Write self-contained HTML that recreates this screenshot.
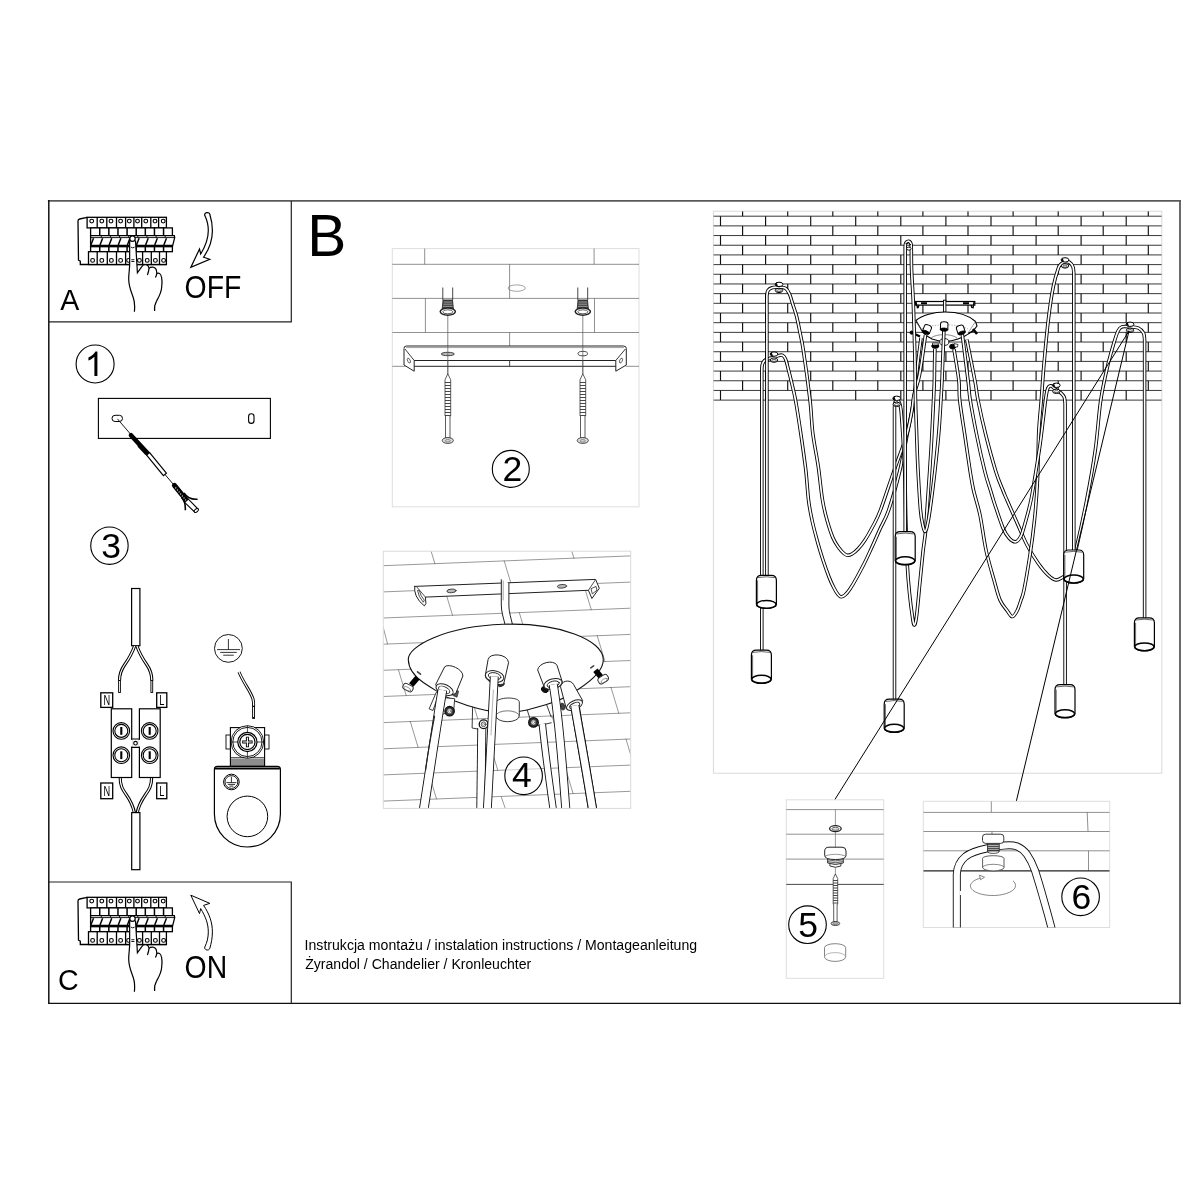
<!DOCTYPE html>
<html><head><meta charset="utf-8"><title>Instrukcja</title>
<style>
html,body{margin:0;padding:0;background:#fff;}
svg{display:block;}
text{font-family:"Liberation Sans",sans-serif;fill:#000;filter:url(#tf);}
</style></head>
<body>
<svg width="1200" height="1200" viewBox="0 0 1200 1200">
<defs><filter id="tf" x="-5%" y="-20%" width="110%" height="140%"><feOffset dx="0" dy="0"/></filter></defs>
<rect width="1200" height="1200" fill="#fff"/>
<!-- frame -->
<g fill="none" stroke-linecap="square">
<path d="M48.8 200.8H1180" stroke="#5a5a5a" stroke-width="1.8"/>
<path d="M1180 200.8V1003.3" stroke="#5a5a5a" stroke-width="1.8"/>
<path d="M48.8 200.8V1003.3" stroke="#111" stroke-width="1.5"/>
<path d="M48.8 1003.3H1180" stroke="#111" stroke-width="1.3"/>
<path d="M48.8 321.8H291.3V201" stroke="#222" stroke-width="1.2" stroke-linecap="butt"/>
<path d="M48.8 882H291.3V1003.4" stroke="#222" stroke-width="1.2" stroke-linecap="butt"/>
</g>
<!-- labels -->
<g>
<text x="307.2" y="255.6" font-size="58.5">B</text>
<text x="60.2" y="309.5" font-size="28.6">A</text>
<text x="58" y="990.2" font-size="28.6">C</text>
<text transform="translate(184.6 297.5) scale(0.93 1)" font-size="30.5">OFF</text>
<text transform="translate(184.6 977.5) scale(0.93 1)" font-size="30.5">ON</text>
<text x="304.6" y="950.3" font-size="14" textLength="392.5" lengthAdjust="spacingAndGlyphs">Instrukcja montażu / instalation instructions / Montageanleitung</text>
<text x="305.2" y="968.7" font-size="14" textLength="226" lengthAdjust="spacingAndGlyphs">Żyrandol / Chandelier / Kronleuchter</text>
</g>
<!-- breaker -->
<g id="brk">
<path d="M87.1 217.3L79.6 219 Q78 219.4 78 221 L78.5 260.2 L80.3 261.2 V264.5 H166.4" fill="none" stroke="#000" stroke-width="1.3"/>
<rect x="87.1" y="217.3" width="79.3" height="10.6" fill="#fff" stroke="#000" stroke-width="1.3"/>
<path d="M97.2 217.3V227.9" stroke="#000" stroke-width="1.3"/>
<path d="M106.8 217.3V227.9" stroke="#000" stroke-width="1.3"/>
<path d="M116.5 217.3V227.9" stroke="#000" stroke-width="1.3"/>
<path d="M125.6 217.3V227.9" stroke="#000" stroke-width="1.3"/>
<path d="M133.9 217.3V227.9" stroke="#000" stroke-width="1.3"/>
<path d="M141.7 217.3V227.9" stroke="#000" stroke-width="1.3"/>
<path d="M150.8 217.3V227.9" stroke="#000" stroke-width="1.3"/>
<path d="M158.6 217.3V227.9" stroke="#000" stroke-width="1.3"/>
<circle cx="91.7" cy="221.1" r="1.9" fill="#fff" stroke="#000" stroke-width="1.1"/>
<circle cx="101.8" cy="221.1" r="1.9" fill="#fff" stroke="#000" stroke-width="1.1"/>
<circle cx="111" cy="221.1" r="1.9" fill="#fff" stroke="#000" stroke-width="1.1"/>
<circle cx="120.6" cy="221.1" r="1.9" fill="#fff" stroke="#000" stroke-width="1.1"/>
<circle cx="129.3" cy="221.1" r="1.9" fill="#fff" stroke="#000" stroke-width="1.1"/>
<circle cx="137.5" cy="221.1" r="1.9" fill="#fff" stroke="#000" stroke-width="1.1"/>
<circle cx="145.8" cy="221.1" r="1.9" fill="#fff" stroke="#000" stroke-width="1.1"/>
<circle cx="155" cy="221.1" r="1.9" fill="#fff" stroke="#000" stroke-width="1.1"/>
<circle cx="163.2" cy="221.1" r="1.9" fill="#fff" stroke="#000" stroke-width="1.1"/>
<rect x="90.6" y="227.9" width="81.8" height="7.8" fill="#fff" stroke="#000" stroke-width="1.3"/>
<path d="M99.72 227.9V235.7" stroke="#000" stroke-width="1.5"/>
<path d="M108.84 227.9V235.7" stroke="#000" stroke-width="1.5"/>
<path d="M117.96 227.9V235.7" stroke="#000" stroke-width="1.5"/>
<path d="M127.08 227.9V235.7" stroke="#000" stroke-width="1.5"/>
<path d="M136.20 227.9V235.7" stroke="#000" stroke-width="1.5"/>
<path d="M145.32 227.9V235.7" stroke="#000" stroke-width="1.5"/>
<path d="M154.44 227.9V235.7" stroke="#000" stroke-width="1.5"/>
<path d="M163.56 227.9V235.7" stroke="#000" stroke-width="1.5"/>
<path d="M90.6 235.7H174.3L174.7 237.6 L172.4 246.6 H90.6Z" fill="#fff" stroke="#000" stroke-width="1.3"/>
<path d="M91 237.6H174.5" stroke="#000" stroke-width="0.9" fill="none"/>
<path d="M90.6 245.8H172.6" stroke="#000" stroke-width="2" fill="none"/>
<path d="M90.90 245V238.5 " stroke="none"/>
<path d="M100.02 245V238.5 " stroke="none"/>
<path d="M109.14 245V238.5 " stroke="none"/>
<path d="M118.26 245V238.5 " stroke="none"/>
<path d="M127.38 245V238.5 " stroke="none"/>
<path d="M136.50 245V238.5 " stroke="none"/>
<path d="M145.62 245V238.5 " stroke="none"/>
<path d="M154.74 245V238.5 " stroke="none"/>
<path d="M163.86 245V238.5 " stroke="none"/>
<path d="M172.98 245V238.5 " stroke="none"/>
<path d="M90.90 245L93.50 238.3" stroke="#000" stroke-width="1.5" fill="none"/>
<path d="M100.02 245L102.62 238.3" stroke="#000" stroke-width="1.5" fill="none"/>
<path d="M109.14 245L111.74 238.3" stroke="#000" stroke-width="1.5" fill="none"/>
<path d="M118.26 245L120.86 238.3" stroke="#000" stroke-width="1.5" fill="none"/>
<path d="M127.38 245L129.98 238.3" stroke="#000" stroke-width="1.5" fill="none"/>
<path d="M136.50 245L139.10 238.3" stroke="#000" stroke-width="1.5" fill="none"/>
<path d="M145.62 245L148.22 238.3" stroke="#000" stroke-width="1.5" fill="none"/>
<path d="M154.74 245L157.34 238.3" stroke="#000" stroke-width="1.5" fill="none"/>
<path d="M163.86 245L166.46 238.3" stroke="#000" stroke-width="1.5" fill="none"/>
<path d="M101.32 235.7V237.6" stroke="#000" stroke-width="0.9"/>
<path d="M110.44 235.7V237.6" stroke="#000" stroke-width="0.9"/>
<path d="M119.56 235.7V237.6" stroke="#000" stroke-width="0.9"/>
<path d="M128.68 235.7V237.6" stroke="#000" stroke-width="0.9"/>
<path d="M137.80 235.7V237.6" stroke="#000" stroke-width="0.9"/>
<path d="M146.92 235.7V237.6" stroke="#000" stroke-width="0.9"/>
<path d="M156.04 235.7V237.6" stroke="#000" stroke-width="0.9"/>
<path d="M165.16 235.7V237.6" stroke="#000" stroke-width="0.9"/>
<rect x="90.6" y="246.7" width="81.8" height="5" fill="#fff" stroke="#000" stroke-width="1.3"/>
<path d="M99.72 246.7V251.7" stroke="#000" stroke-width="1.5"/>
<path d="M108.84 246.7V251.7" stroke="#000" stroke-width="1.5"/>
<path d="M117.96 246.7V251.7" stroke="#000" stroke-width="1.5"/>
<path d="M127.08 246.7V251.7" stroke="#000" stroke-width="1.5"/>
<path d="M136.20 246.7V251.7" stroke="#000" stroke-width="1.5"/>
<path d="M145.32 246.7V251.7" stroke="#000" stroke-width="1.5"/>
<path d="M154.44 246.7V251.7" stroke="#000" stroke-width="1.5"/>
<path d="M163.56 246.7V251.7" stroke="#000" stroke-width="1.5"/>
<rect x="88.5" y="251.7" width="77.9" height="12.8" fill="#fff" stroke="#000" stroke-width="1.3"/>
<path d="M97.2 251.7V264.5" stroke="#000" stroke-width="1.3"/>
<path d="M107.3 251.7V264.5" stroke="#000" stroke-width="1.3"/>
<path d="M116.5 251.7V264.5" stroke="#000" stroke-width="1.3"/>
<path d="M125.6 251.7V264.5" stroke="#000" stroke-width="1.3"/>
<path d="M142.6 251.7V264.5" stroke="#000" stroke-width="1.3"/>
<path d="M151.3 251.7V264.5" stroke="#000" stroke-width="1.3"/>
<path d="M159.5 251.7V264.5" stroke="#000" stroke-width="1.3"/>
<circle cx="92.6" cy="260.4" r="1.9" fill="#fff" stroke="#000" stroke-width="1.1"/>
<circle cx="101.8" cy="260.4" r="1.9" fill="#fff" stroke="#000" stroke-width="1.1"/>
<circle cx="111.4" cy="260.4" r="1.9" fill="#fff" stroke="#000" stroke-width="1.1"/>
<circle cx="120.6" cy="260.4" r="1.9" fill="#fff" stroke="#000" stroke-width="1.1"/>
<circle cx="128.6" cy="260.4" r="1.9" fill="#fff" stroke="#000" stroke-width="1.1"/>
<circle cx="139.4" cy="260.4" r="1.9" fill="#fff" stroke="#000" stroke-width="1.1"/>
<circle cx="147.2" cy="260.4" r="1.9" fill="#fff" stroke="#000" stroke-width="1.1"/>
<circle cx="155.4" cy="260.4" r="1.9" fill="#fff" stroke="#000" stroke-width="1.1"/>
<circle cx="163.6" cy="260.4" r="1.9" fill="#fff" stroke="#000" stroke-width="1.1"/>
<path d="M129.65 241 V264.5 C129.6 270 128.7 273 128.7 279 C128.7 287 131.5 292 133.4 298 C135 303 134.9 307 134.4 311.8 L154.6 311 C154 306 154.6 304.5 156.5 301.2 C159 296.5 161 293.5 161.6 288 C162.3 283 162.2 280 161.6 277.5 C160.8 273.6 159 272.4 156.8 273.4 C156.8 269.5 155 267.2 152.4 267.2 C150.8 267.2 149.8 267.6 149 268.4 C148.6 265.6 147 264.6 145.2 264.6 C143.6 264.6 142.6 265.4 142 266.3 L137.4 272.8 L135.5 241 Z" fill="#fff" stroke="none"/>
<path d="M129.65 240.5 V264.5 C129.6 270 128.7 273 128.7 279 C128.7 287 131.5 292 133.4 298 C135 303 134.9 307 134.4 311.8" fill="none" stroke="#000" stroke-width="1.2"/>
<path d="M135.5 240.5 L137.4 272.8 L142 266.3 C142.6 265.4 143.6 264.6 145.2 264.6 C147 264.6 148.6 265.6 149 268.4 C148.8 271 148.2 273 147.4 275" fill="none" stroke="#000" stroke-width="1.2"/>
<path d="M149 268.4 C149.8 267.6 150.8 267.2 152.4 267.2 C155 267.2 156.8 269.5 156.8 273.4 C156.6 275 156 276.4 155.4 277.6" fill="none" stroke="#000" stroke-width="1.2"/>
<path d="M156.8 273.4 C159 272.4 160.8 273.6 161.6 277.5 C162.2 280 162.3 283 161.6 288 C161 293.5 159 296.5 156.5 301.2 C154.6 304.5 154 306 154.6 311" fill="none" stroke="#000" stroke-width="1.2"/>
<circle cx="132.5" cy="238.7" r="2.7" fill="#fff" stroke="#000" stroke-width="1.2"/>
<path d="M130.8 247.1Q132.6 248.6 134.6 247.1" fill="none" stroke="#000" stroke-width="0.9"/>
<path d="M131.3 259.7H134.4M131.3 261.5H134.4" stroke="#000" stroke-width="0.9"/>
</g>
<use href="#brk" y="680"/>
<path d="M204.8 215.6 C203.8 212.6 209 211.2 209.8 214.3 C211.3 219 212.4 225 212.4 230.7 C212.4 240 209.5 248.5 203.6 257.2 L209.75 259.25 L190.8 267.4 L199.5 249 L200.7 254 C205.5 246 208.3 239 208.3 230.7 C208.3 225 207 220 204.8 215.6 Z" fill="#fff" stroke="#000" stroke-width="1.2"/>
<path d="M204.8 215.6 C203.8 212.6 209 211.2 209.8 214.3 C211.3 219 212.4 225 212.4 230.7 C212.4 240 209.5 248.5 203.6 257.2 L209.75 259.25 L190.8 267.4 L199.5 249 L200.7 254 C205.5 246 208.3 239 208.3 230.7 C208.3 225 207 220 204.8 215.6 Z" fill="#fff" stroke="#000" stroke-width="1" transform="translate(0 1162.6) scale(1 -1)"/>
<!-- s1 -->
<g fill="none" stroke="#000">
<circle cx="95.1" cy="364" r="19" stroke-width="1.1"/>
<rect x="98.4" y="398.4" width="172" height="40" stroke-width="1.1" fill="#fff"/>
<rect x="112" y="415.3" width="10.5" height="6.2" rx="3.1" stroke-width="1"/>
<rect x="248.6" y="413.8" width="5.4" height="9.6" rx="2.7" stroke-width="1.1"/>
<path d="M117.5 418.9L173.6 484.6" stroke-width="0.9"/>
<path d="M131 435.3L148.1 453.9" stroke-width="4.6" stroke-linecap="round"/>
<path d="M146.6 455.1L149.6 452.6L166.4 473.2L163.4 475.7Z" fill="#fff" stroke-width="1.2"/>
<path d="M147 453.5L139 445" stroke="#000" stroke-width="4.2"/>
<!-- plug -->
<path d="M174.4 485.4L186.8 500.6" stroke-width="5" stroke-linecap="round"/>
<path d="M175.5 487.5L186 500.5" stroke="#fff" stroke-width="1.2" stroke-dasharray="1 1.6"/>
<path d="M184.6 502.4L188.4 499.2L198 509L194.6 512Z" fill="#fff" stroke-width="1.1"/>
<ellipse cx="196.3" cy="510.5" rx="2.4" ry="1.5" transform="rotate(-42 196.3 510.5)" fill="#fff" stroke-width="1"/>
<path d="M184 493C187 497.5 191.5 499.8 197.6 499.2" stroke-width="1.6"/>
<path d="M181.5 497.5C184.8 501 185.6 505.5 185.3 510.2" stroke-width="1.6"/>
</g>
<path d="M763 0H583V1147Q518 1085 412.5 1023Q307 961 223 930V1104Q374 1175 487 1276Q600 1377 647 1472H763Z" transform="translate(84.7 375.9) scale(0.01664 -0.01664)" fill="#000"/>
<!-- s3 -->
<g fill="none" stroke="#000" stroke-width="1.1">
<circle cx="109.45" cy="545.7" r="18.7"/>
<!-- top cable -->
<rect x="131.6" y="588.5" width="8.3" height="57.2" fill="#fff" stroke-width="1.2"/>
<!-- top wires -->
<path d="M134.6 646C131.5 655 128 660 124.5 665C121 670 119.5 674 119.5 680.5" stroke-width="3.2"/>
<path d="M134.6 646C131.5 655 128 660 124.5 665C121 670 119.5 674 119.5 680.5" stroke="#fff" stroke-width="1.2"/>
<path d="M136.9 646C140 655 143.5 660 147 665C150.5 670 151.8 674 151.8 680.5" stroke-width="3.2"/>
<path d="M136.9 646C140 655 143.5 660 147 665C150.5 670 151.8 674 151.8 680.5" stroke="#fff" stroke-width="1.2"/>
<rect x="118.6" y="680.5" width="1.8" height="12" fill="#fff" stroke-width="0.9"/>
<rect x="150.9" y="680.5" width="1.8" height="12" fill="#fff" stroke-width="0.9"/>
<!-- labels boxes -->
<rect x="100.8" y="692.8" width="11.9" height="14.6" stroke-width="1.3"/>
<rect x="156.7" y="692.8" width="10.1" height="14.6" stroke-width="1.3"/>
<rect x="100.8" y="783" width="11.9" height="15.7" stroke-width="1.3"/>
<rect x="156.7" y="783" width="10.1" height="15.7" stroke-width="1.3"/>
<!-- bottom wires -->
<path d="M120.2 777.5C120 786 123 790 126.5 795C130 800 133 806 134.4 812.6" stroke-width="3.2"/>
<path d="M120.2 777C120 786 123 790 126.5 795C130 800 133 806 134.4 813" stroke="#fff" stroke-width="1.2"/>
<path d="M151.6 777.5C151.8 786 148.8 790 145.3 795C141.8 800 138.6 806 137.2 812.6" stroke-width="3.2"/>
<path d="M151.6 777C151.8 786 148.8 790 145.3 795C141.8 800 138.6 806 137.2 813" stroke="#fff" stroke-width="1.2"/>
<!-- blocks -->
<rect x="111.3" y="708.8" width="20.4" height="68.7" fill="#fff" stroke-width="1.2"/>
<rect x="139.4" y="708.8" width="20.8" height="68.7" fill="#fff" stroke-width="1.2"/>
<path d="M131.7 739.7V746.7M139.4 739.7V746.7" stroke="#fff" stroke-width="1.8"/>
<path d="M131.1 739H140M131.1 747.4H140"/>
<circle cx="135.5" cy="743.2" r="1.8"/>
<g id="scr"><circle cx="121.3" cy="730.9" r="8.3" stroke-width="1.1"/><circle cx="121.3" cy="730.9" r="6.5" stroke-width="1.1"/><path d="M121.3 727V734.8" stroke-width="2.1"/></g>
<use href="#scr" x="28.4"/><use href="#scr" y="24.3"/><use href="#scr" x="28.4" y="24.3"/>
<!-- bottom cable -->
<rect x="131.7" y="812.6" width="8.2" height="57.1" fill="#fff" stroke-width="1.2"/>
<!-- ground symbol -->
<circle cx="228.4" cy="648.4" r="13.9" stroke-width="0.9"/>
<path d="M228.4 639V649.6M217 649.6H240M220.2 652.4H236.8M223.2 655.2H233.8" stroke-width="0.8"/>
<!-- ground wire -->
<path d="M239 672C244 684 250 690 253 699C253.8 702 253.6 704 253.6 706.5" stroke-width="3"/>
<path d="M238.8 671.5C244 684 250 690 253 699C253.8 702 253.6 704 253.6 707" stroke="#fff" stroke-width="1.2"/>
<rect x="252.6" y="706.2" width="1.9" height="12.2" fill="#fff" stroke-width="0.9"/>
<!-- connector -->
<rect x="226" y="735" width="4.4" height="14" stroke-width="0.9"/>
<rect x="264.6" y="735" width="4.4" height="14" stroke-width="0.9"/>
<rect x="230.4" y="727.6" width="34.2" height="38.4" fill="#fff"/>
<path d="M230.4 757.8H264.6M230.4 760H264.6M230.4 762H264.6M230.4 764H264.6" stroke-width="0.9"/>
<circle cx="247.4" cy="742" r="16.3" fill="#fff" stroke-width="0.9"/>
<circle cx="247.4" cy="742" r="14.6" stroke-width="0.9"/>
<circle cx="247.4" cy="742" r="9.6" stroke-width="1.2"/>
<circle cx="247.4" cy="742" r="7.6" stroke-width="1.2"/>
<path d="M247.4 725.6V733M247.4 751V758M231 742H238M257 742H264" stroke-width="0.7"/>
<path d="M247.4 736.8V747.2M242.2 742H252.6" stroke-width="3"/>
<path d="M247.4 737.6V746.4M243 742H251.8" stroke="#fff" stroke-width="1.1"/>
<!-- plate -->
<path d="M217.4 766.4H277.4Q280.4 766.4 280.4 769.4V814A33 33 0 0 1 214.4 814V769.4Q214.4 766.4 217.4 766.4Z" fill="#fff" stroke-width="1.2"/>
<path d="M215 768.6H279.8" stroke-width="2"/>
<circle cx="247.4" cy="816.4" r="20.3" stroke-width="1"/>
<circle cx="231.4" cy="782" r="7.8" stroke-width="1"/>
<circle cx="231.4" cy="782" r="6.4" stroke-width="0.9"/>
<path d="M231.4 776.6V782.6M226.4 782.6H236.4M227.8 784.4H235M229.4 786.1H233.4" stroke-width="0.8"/>
</g>
<text id="d3" x="111" y="557.7" font-size="35.5" text-anchor="middle">3</text>
<text transform="translate(106.75 705.4) scale(0.66 1)" font-size="14" text-anchor="middle">N</text>
<text transform="translate(106.75 796.2) scale(0.66 1)" font-size="14" text-anchor="middle">N</text>
<text transform="translate(161.9 705.4) scale(0.66 1)" font-size="14" text-anchor="middle">L</text>
<text transform="translate(161.9 796.2) scale(0.66 1)" font-size="14" text-anchor="middle">L</text>
<!-- s2 -->
<g fill="none" stroke="#3a3a3a" stroke-width="0.8">
<rect x="392.3" y="248.6" width="246.7" height="258.2" stroke="#dedede" stroke-width="1" fill="#fff"/>
<!-- bricks -->
<path d="M392.3 264.3H639M392.3 298.4H639M392.3 332.5H639M392.3 366.3H405.5M625.6 366.3H639" stroke="#555" stroke-width="0.65"/>
<path d="M424.7 248.6V264.3M594.1 248.6V264.3M509.6 264.3V298.4M425.4 298.4V332.5M594.5 298.4V332.5M509.6 332.5V346M509.6 360.6V366.3" stroke="#555" stroke-width="0.65"/>
<ellipse cx="516.7" cy="288.1" rx="8.6" ry="3.2" stroke="#666" stroke-width="0.6"/>
<!-- guide lines -->
<path d="M447.8 315V374M582.8 315V374" stroke="#555" stroke-width="0.7"/>
<!-- anchors -->
<g id="anch">
<path d="M442.8 287.5V300M452.7 287.5V300" stroke="#333" stroke-width="0.9"/>
<path d="M443 300H452.5L453.4 309H442.2Z" fill="#444" stroke="#222" stroke-width="0.8"/>
<path d="M443.6 302H452M443.4 304.2H452.3M443 306.4H452.6" stroke="#bbb" stroke-width="0.7"/>
<ellipse cx="447.8" cy="311.6" rx="7.6" ry="3.6" fill="#fff" stroke="#222" stroke-width="1.5"/>
<ellipse cx="447.8" cy="311.8" rx="5" ry="2" stroke="#333" stroke-width="0.8"/>
</g>
<use href="#anch" x="135"/>
<!-- bracket -->
<path d="M406.5 346H623.5Q626.4 346 626.3 348.5V365L615.8 371.2V360.5H414.2V371.2L404 365V348.5Q403.9 346 406.5 346Z" fill="#fff" stroke="#222" stroke-width="1"/>
<path d="M406 347.6H624" stroke="#777" stroke-width="0.7"/>
<path d="M414.2 360.5L405 349M615.8 360.5L625.4 349" stroke="#222" stroke-width="0.9"/>
<path d="M414.2 366.3H615.8" stroke="#222" stroke-width="1"/>
<path d="M509.6 360.6V366.3" stroke="#444"/>
<ellipse cx="408.9" cy="360.6" rx="1.3" ry="2.6" transform="rotate(-25 408.9 360.6)" stroke="#333" stroke-width="0.7"/>
<ellipse cx="621" cy="360.6" rx="1.3" ry="2.6" transform="rotate(25 621 360.6)" stroke="#333" stroke-width="0.7"/>
<ellipse cx="447.8" cy="354" rx="6.6" ry="1.7" fill="#bbb" stroke="#333" stroke-width="0.9"/>
<ellipse cx="582.8" cy="353.6" rx="4.8" ry="2.2" fill="#fff" stroke="#333" stroke-width="0.9"/>
<path d="M447.8 346V374" stroke="#555" stroke-width="0.7"/>
<path d="M582.8 346V374" stroke="#555" stroke-width="0.7"/>
<!-- screws -->
<g id="screw2">
<path d="M447.8 373.8L445 379.8V415.8H445.5V438H450V415.8H450.7V379.8Z" fill="#fff" stroke="#333" stroke-width="0.8"/>
<path d="M445 382.5H450.7M445 385.5H450.7M445 388.5H450.7M445 391.5H450.7M445 394.5H450.7M445 397.5H450.7M445 400.5H450.7M445 403.5H450.7M445 406.5H450.7M445 409.5H450.7M445 412.5H450.7M445 415.5H450.7" stroke="#333" stroke-width="0.9"/>
<ellipse cx="447.8" cy="440.5" rx="5.6" ry="2.9" fill="#ddd" stroke="#333" stroke-width="0.9"/>
<ellipse cx="447.8" cy="440.8" rx="2.6" ry="1.2" stroke="#555" stroke-width="0.6"/>
</g>
<use href="#screw2" x="135"/>
<circle cx="510.8" cy="468.9" r="18.5" stroke="#000" stroke-width="1.1"/>
</g>
<text id="d2" x="512.3" y="480.5" font-size="35.5" text-anchor="middle">2</text>
<!-- s4 -->
<clipPath id="c4"><rect x="383.3" y="551.2" width="247.40000000000003" height="257.19999999999993"/></clipPath>
<rect x="383.3" y="551.2" width="247.4" height="257.2" fill="#fff" stroke="none"/>
<g clip-path="url(#c4)" fill="none" stroke="#222" stroke-width="0.9" stroke-linecap="round">
<path d="M383.3 565.7L630.7 555.9M383.3 591.9L630.7 582.1M383.3 618.0L630.7 608.2M383.3 644.2L630.7 634.4M383.3 670.3L630.7 660.5M383.3 696.5L630.7 686.7M383.3 722.6L630.7 712.8M383.3 748.8L630.7 739.0M383.3 774.9L630.7 765.1M383.3 801.1L630.7 791.3" stroke="#444" stroke-width="0.55"/>
<path d="M431.1 551.2L434.9 563.7M571.8 551.2L573.9 558.2M504.2 560.9L512.0 586.8M444.7 589.4L452.5 615.3M583.5 583.9L591.3 609.8M383.3 627.5L387.5 643.8M519.3 612.6L527.1 638.5M597.2 635.7L605.0 661.5M455.0 641.3L462.8 667.2M398.4 669.7L406.2 695.5M540.0 664.1L547.8 689.9M611.0 687.4L618.8 713.3M470.0 693.0L477.8 718.9M410.3 721.5L418.1 747.4M552.0 715.9L559.8 741.8M626.0 739.1L633.8 765.0M490.0 744.5L497.8 770.4M428.7 773.1L436.5 798.9M565.3 767.7L573.1 793.5M501.3 797L505.3 808.5" stroke="#444" stroke-width="0.55"/>
<path d="M414.7 586.4L595.6 579.4L599.3 588.3L591.9 598.5L588.4 590.3L425.4 597.1L425.9 603.5L424.4 605.9Q419 602 416.2 596Q414 590.5 414.7 586.4Z" fill="#fff" stroke-width="1"/>
<path d="M425.4 597.1L417 587.2M588.4 590.3L595.2 580.2" stroke-width="0.8"/>
<path d="M417.6 590.8Q418.5 597 423.3 602.2L424.3 600.2Q420.5 596 419.3 590.6Z" fill="#fff" stroke-width="0.8"/>
<path d="M591.4 588.6L596 586.4L597 590.2L592.6 593.6Z" fill="#fff" stroke-width="0.8"/>
<ellipse cx="451.5" cy="590.9" rx="4.6" ry="1.8" transform="rotate(-3 451.5 590.9)" fill="#bbb" stroke-width="0.8"/>
<ellipse cx="562" cy="586.3" rx="4.6" ry="1.8" transform="rotate(-3 562 586.3)" fill="#bbb" stroke-width="0.8"/>
<path d="M501.3 579.7V605C501.3 612 503.5 618 505.2 625L512.6 625C511 618 508.9 612 508.9 606V582.9" fill="#fff" stroke-width="1"/>
<path d="M503.2 581V600" stroke-width="0.6" stroke="#666"/>
<path d="M408.3 659.5C408 646 445 626.5 503 624.3C560 622.5 603 640 603.3 659.5C603.5 668 596 678 578 689.5C570 695 561 700.5 546.5 704.5C536 707.5 530 709.5 527 710C518 712 510 712.6 505 712.5C495 712.3 486 710.5 478 708.5C470 706.5 462 703.8 455 701C448 698 441 694 436 690.6C430 687 427 685 423.3 682.5C414 676 408.5 668 408.3 659.5Z" fill="#fff" stroke="#111" stroke-width="1.1"/>
<path d="M417.5 671.8L420.5 674.2" stroke-width="1.6" stroke="#444"/><path d="M590.8 667.8L593.6 665.8" stroke-width="1.6" stroke="#444"/>
<path d="M417.6 677.6L411.2 685" stroke="#000" stroke-width="5.6" stroke-linecap="butt"/>
<rect x="-5.2" y="-3.1" width="10.4" height="6.2" rx="2.4" transform="translate(408 687.6) rotate(28)" fill="#fff" stroke-width="0.9"/>
<ellipse cx="407.3" cy="688.8" rx="3.8" ry="1.6" transform="rotate(28 407.3 688.8)" stroke="#666" stroke-width="0.6"/>
<path d="M595.4 670.2L600.8 676.8" stroke="#000" stroke-width="5.6" stroke-linecap="butt"/>
<rect x="-5.4" y="-3.4" width="10.8" height="6.8" rx="2.6" transform="translate(603.2 679.2) rotate(-32)" fill="#fff" stroke-width="0.9"/>
<ellipse cx="604.2" cy="680.6" rx="3.6" ry="1.6" transform="rotate(-32 604.2 680.6)" stroke="#666" stroke-width="0.6"/>
<path d="M495.7 703C496 696.5 519 696.5 519.3 702V715.8A11.8 5.9 0 0 1 495.7 715.8Z" fill="#fff" stroke-width="0.9"/>
<path d="M495.7 715.8A11.8 5 0 0 1 519.3 715.8" stroke-width="0.8" stroke="#555"/>
<path d="M472.6 707.2L472.1 728L478 729.1" stroke-width="0.9"/>
<path d="M527.2 710L530.2 719.3M538.3 725.7L551.2 722.8M546.5 704.4L551.2 717" stroke-width="0.9"/>
<path d="M481.8 728L480.8 812" stroke="#111" stroke-width="9.0" stroke-linecap="butt"/>
<path d="M481.8 728L480.8 812" stroke="#fff" stroke-width="7.2" stroke-linecap="butt"/>
<path d="M542.3 724C545 750 549 780 553.6 812" stroke="#111" stroke-width="7.3999999999999995" stroke-linecap="butt"/>
<path d="M542.3 724C545 750 549 780 553.6 812" stroke="#fff" stroke-width="5.6" stroke-linecap="butt"/>
<circle cx="483.6" cy="724.3" r="4.4" fill="#fff" stroke="#111" stroke-width="1.3"/>
<circle cx="483.6" cy="724.3" r="2.4" fill="#fff" stroke="#333" stroke-width="0.8"/>
<circle cx="483.6" cy="724.3" r="1.1" fill="none" stroke="#666" stroke-width="0.6"/>
<circle cx="533.5" cy="722.4" r="4.8" fill="#333" stroke="#111" stroke-width="1.3"/>
<circle cx="533.5" cy="722.4" r="2.6" fill="#fff" stroke="#333" stroke-width="0.8"/>
<circle cx="533.5" cy="722.4" r="1.2" fill="none" stroke="#666" stroke-width="0.6"/>
<path d="M574.8 704C577 720 583 750 593 812" stroke="#111" stroke-width="9.200000000000001" stroke-linecap="butt"/>
<path d="M574.8 704C577 720 583 750 593 812" stroke="#fff" stroke-width="7.4" stroke-linecap="butt"/>
<path d="M561.7 684C563 680.5 571 679.5 573.6 684.5L582.7 700.7C583 705 570 711 566.3 708.8L560.5 686.7Z" fill="#fff" stroke-width="1"/>
<ellipse cx="574.5" cy="705.2" rx="8.6" ry="4.4" transform="rotate(-25 574.5 705.2)" fill="#fff" stroke-width="1"/>
<ellipse cx="574.7" cy="705.6" rx="5.4" ry="2.6" transform="rotate(-25 574.7 705.6)" fill="#fff" stroke-width="0.9"/>
<path d="M574.8 705.6C577 720 583 750 593 812" stroke="#111" stroke-width="9.0" stroke-linecap="butt"/>
<path d="M574.8 705.6C577 720 583 750 593 812" stroke="#fff" stroke-width="7.2" stroke-linecap="butt"/>
<ellipse cx="562.6" cy="706.6" rx="2.2" ry="3.6" transform="rotate(-15 562.6 706.6)" fill="#444" stroke="#222" stroke-width="0.6"/>
<ellipse cx="544.8" cy="689.6" rx="3.6" ry="2.8" transform="rotate(30 544.8 689.6)" fill="#111" stroke="#000" stroke-width="0.8"/>
<path d="M537.7 669.5C538.5 663 553 659 557 665.2L562.3 682C562 688 548 692 544.2 686.7Z" fill="#fff" stroke-width="1"/>
<ellipse cx="553" cy="683.9" rx="9.3" ry="5" transform="rotate(-15 553 683.9)" fill="#fff" stroke-width="1"/>
<ellipse cx="553.2" cy="684.3" rx="6.2" ry="3.1" transform="rotate(-15 553.2 684.3)" fill="#fff" stroke-width="0.9"/>
<path d="M553.2 684.5C556 700 560 730 566 812" stroke="#111" stroke-width="9.0" stroke-linecap="butt"/>
<path d="M553.2 684.5C556 700 560 730 566 812" stroke="#fff" stroke-width="7.2" stroke-linecap="butt"/>
<ellipse cx="501.2" cy="684.6" rx="3.2" ry="1.8" transform="rotate(-20 501.2 684.6)" fill="#333" stroke="#111" stroke-width="0.7"/>
<path d="M488.2 659C489.5 652.5 507.5 653.5 508.6 662.5L503.9 683C502 687 486 683 485.3 676.2Z" fill="#fff" stroke-width="1"/>
<ellipse cx="494.6" cy="676.4" rx="9.4" ry="5.6" transform="rotate(12 494.6 676.4)" fill="#fff" stroke-width="1"/>
<ellipse cx="494.6" cy="676.2" rx="6.4" ry="3.4" transform="rotate(12 494.6 676.2)" fill="#fff" stroke-width="0.9"/>
<path d="M494.3 676.5C493 700 490 760 487.2 812" stroke="#111" stroke-width="8.8" stroke-linecap="butt"/>
<path d="M494.3 676.5C493 700 490 760 487.2 812" stroke="#fff" stroke-width="7" stroke-linecap="butt"/>
<path d="M493.4 690C492.5 705 491.5 720 491 735" stroke="#666" stroke-width="0.5"/>
<path d="M454.6 689.6L458.6 691.2L457 697.2L453 695.6Z" fill="#555" stroke="#222" stroke-width="0.7"/>
<path d="M429.3 708.5L436.3 692.2L439 693.3L433.1 710.1Z" fill="#fff" stroke-width="0.9"/>
<path d="M442.3 713.9L445 697.7L454.7 698.7L453.7 710.7Z" fill="#fff" stroke-width="0.9"/>
<circle cx="449.6" cy="711.2" r="4.7" fill="#333" stroke="#111" stroke-width="1.3"/>
<circle cx="449.6" cy="711.2" r="2.6" fill="#fff" stroke="#333" stroke-width="0.8"/>
<circle cx="449.6" cy="711.2" r="1.2" fill="none" stroke="#666" stroke-width="0.6"/>
<path d="M445 666.5C449 663 463 669 462.9 676L455.8 693.3C452 697 436 691 435.8 684.7Z" fill="#fff" stroke-width="1"/>
<ellipse cx="444.6" cy="689.6" rx="9.2" ry="5" transform="rotate(25 444.6 689.6)" fill="#fff" stroke-width="1"/>
<ellipse cx="444.2" cy="689.8" rx="6" ry="3" transform="rotate(25 444.2 689.8)" fill="#fff" stroke-width="0.9"/>
<path d="M442.4 690C438 715 430 770 423.3 812" stroke="#111" stroke-width="9.6" stroke-linecap="butt"/>
<path d="M442.4 690C438 715 430 770 423.3 812" stroke="#fff" stroke-width="7.8" stroke-linecap="butt"/>
<path d="M434.6 716C431 735 428 752 425.6 770" stroke="#222" stroke-width="1.2"/>
<circle cx="523.6" cy="775.8" r="18.8" fill="#fff" fill-opacity="0.55" stroke="#000" stroke-width="1.1"/>
</g>
<rect x="383.3" y="551.2" width="247.4" height="257.2" fill="none" stroke="#dadada" stroke-width="1"/>
<text id="d4" x="521.8" y="786.8" font-size="35.5" text-anchor="middle">4</text>
<!-- main -->
<clipPath id="cm"><rect x="713.4" y="211.2" width="448.4" height="562.0"/></clipPath>
<rect x="713.4" y="211.2" width="448.4" height="562.0" fill="#fff" stroke="#dadada" stroke-width="1"/>
<g clip-path="url(#cm)" fill="none" stroke="#000">
<path d="M713.4 216.20H1161.8M713.4 225.88H1161.8M713.4 235.56H1161.8M713.4 245.24H1161.8M713.4 254.92H1161.8M713.4 264.60H1161.8M713.4 274.28H1161.8M713.4 283.96H1161.8M713.4 293.64H1161.8M713.4 303.32H1161.8M713.4 313.00H1161.8M713.4 322.68H1161.8M713.4 332.36H1161.8M713.4 342.04H1161.8M713.4 351.72H1161.8M713.4 361.40H1161.8M713.4 371.08H1161.8M713.4 380.76H1161.8M713.4 390.44H1161.8M713.4 400.12H1161.8" stroke="#222" stroke-width="0.9"/>
<path d="M742.6 211.20V216.20M787.7 211.20V216.20M832.8 211.20V216.20M877.8 211.20V216.20M922.9 211.20V216.20M968.0 211.20V216.20M1013.1 211.20V216.20M1058.2 211.20V216.20M1103.2 211.20V216.20M1148.3 211.20V216.20M720.5 216.20V225.88M765.6 216.20V225.88M810.7 216.20V225.88M855.7 216.20V225.88M900.8 216.20V225.88M945.9 216.20V225.88M991.0 216.20V225.88M1036.1 216.20V225.88M1081.1 216.20V225.88M1126.2 216.20V225.88M742.6 225.88V235.56M787.7 225.88V235.56M832.8 225.88V235.56M877.8 225.88V235.56M922.9 225.88V235.56M968.0 225.88V235.56M1013.1 225.88V235.56M1058.2 225.88V235.56M1103.2 225.88V235.56M1148.3 225.88V235.56M720.5 235.56V245.24M765.6 235.56V245.24M810.7 235.56V245.24M855.7 235.56V245.24M900.8 235.56V245.24M945.9 235.56V245.24M991.0 235.56V245.24M1036.1 235.56V245.24M1081.1 235.56V245.24M1126.2 235.56V245.24M742.6 245.24V254.92M787.7 245.24V254.92M832.8 245.24V254.92M877.8 245.24V254.92M922.9 245.24V254.92M968.0 245.24V254.92M1013.1 245.24V254.92M1058.2 245.24V254.92M1103.2 245.24V254.92M1148.3 245.24V254.92M720.5 254.92V264.60M765.6 254.92V264.60M810.7 254.92V264.60M855.7 254.92V264.60M900.8 254.92V264.60M945.9 254.92V264.60M991.0 254.92V264.60M1036.1 254.92V264.60M1081.1 254.92V264.60M1126.2 254.92V264.60M742.6 264.60V274.28M787.7 264.60V274.28M832.8 264.60V274.28M877.8 264.60V274.28M922.9 264.60V274.28M968.0 264.60V274.28M1013.1 264.60V274.28M1058.2 264.60V274.28M1103.2 264.60V274.28M1148.3 264.60V274.28M720.5 274.28V283.96M765.6 274.28V283.96M810.7 274.28V283.96M855.7 274.28V283.96M900.8 274.28V283.96M945.9 274.28V283.96M991.0 274.28V283.96M1036.1 274.28V283.96M1081.1 274.28V283.96M1126.2 274.28V283.96M742.6 283.96V293.64M787.7 283.96V293.64M832.8 283.96V293.64M877.8 283.96V293.64M922.9 283.96V293.64M968.0 283.96V293.64M1013.1 283.96V293.64M1058.2 283.96V293.64M1103.2 283.96V293.64M1148.3 283.96V293.64M720.5 293.64V303.32M765.6 293.64V303.32M810.7 293.64V303.32M855.7 293.64V303.32M900.8 293.64V303.32M945.9 293.64V303.32M991.0 293.64V303.32M1036.1 293.64V303.32M1081.1 293.64V303.32M1126.2 293.64V303.32M742.6 303.32V313.00M787.7 303.32V313.00M832.8 303.32V313.00M877.8 303.32V313.00M922.9 303.32V313.00M968.0 303.32V313.00M1013.1 303.32V313.00M1058.2 303.32V313.00M1103.2 303.32V313.00M1148.3 303.32V313.00M720.5 313.00V322.68M765.6 313.00V322.68M810.7 313.00V322.68M855.7 313.00V322.68M900.8 313.00V322.68M945.9 313.00V322.68M991.0 313.00V322.68M1036.1 313.00V322.68M1081.1 313.00V322.68M1126.2 313.00V322.68M742.6 322.68V332.36M787.7 322.68V332.36M832.8 322.68V332.36M877.8 322.68V332.36M922.9 322.68V332.36M968.0 322.68V332.36M1013.1 322.68V332.36M1058.2 322.68V332.36M1103.2 322.68V332.36M1148.3 322.68V332.36M720.5 332.36V342.04M765.6 332.36V342.04M810.7 332.36V342.04M855.7 332.36V342.04M900.8 332.36V342.04M945.9 332.36V342.04M991.0 332.36V342.04M1036.1 332.36V342.04M1081.1 332.36V342.04M1126.2 332.36V342.04M742.6 342.04V351.72M787.7 342.04V351.72M832.8 342.04V351.72M877.8 342.04V351.72M922.9 342.04V351.72M968.0 342.04V351.72M1013.1 342.04V351.72M1058.2 342.04V351.72M1103.2 342.04V351.72M1148.3 342.04V351.72M720.5 351.72V361.40M765.6 351.72V361.40M810.7 351.72V361.40M855.7 351.72V361.40M900.8 351.72V361.40M945.9 351.72V361.40M991.0 351.72V361.40M1036.1 351.72V361.40M1081.1 351.72V361.40M1126.2 351.72V361.40M742.6 361.40V371.08M787.7 361.40V371.08M832.8 361.40V371.08M877.8 361.40V371.08M922.9 361.40V371.08M968.0 361.40V371.08M1013.1 361.40V371.08M1058.2 361.40V371.08M1103.2 361.40V371.08M1148.3 361.40V371.08M720.5 371.08V380.76M765.6 371.08V380.76M810.7 371.08V380.76M855.7 371.08V380.76M900.8 371.08V380.76M945.9 371.08V380.76M991.0 371.08V380.76M1036.1 371.08V380.76M1081.1 371.08V380.76M1126.2 371.08V380.76M742.6 380.76V390.44M787.7 380.76V390.44M832.8 380.76V390.44M877.8 380.76V390.44M922.9 380.76V390.44M968.0 380.76V390.44M1013.1 380.76V390.44M1058.2 380.76V390.44M1103.2 380.76V390.44M1148.3 380.76V390.44M720.5 390.44V400.12M765.6 390.44V400.12M810.7 390.44V400.12M855.7 390.44V400.12M900.8 390.44V400.12M945.9 390.44V400.12M991.0 390.44V400.12M1036.1 390.44V400.12M1081.1 390.44V400.12M1126.2 390.44V400.12" stroke="#111" stroke-width="1.15"/>
<rect x="915.4" y="301.5" width="59.4" height="3.6" fill="#fff" stroke="#000" stroke-width="1.2"/>
<path d="M916 302L917.6 308.4M919 305L918 308M974 302L973 308.4M971 305L972 308" stroke="#000" stroke-width="1.3"/>
<path d="M921 303.3H927M963 303.3H969" stroke="#000" stroke-width="2"/>
<rect x="943.5" y="300.2" width="2.4" height="12" fill="#fff" stroke="#000" stroke-width="0.9"/>
<path d="M916 320.5C922 315 934 312 945 312C957 312 969 315.5 975.5 321.5L977 326C974 331 966 336 958 339C950 342 940 342 932 339C926 336 922.5 332 921.5 330Z" fill="#fff" stroke="#000" stroke-width="1.1"/>
<path d="M916 320.5L921.5 330M975.5 321.5L968 333" stroke="#555" stroke-width="0.6"/>
<path d="M922 329C930 323.5 960 323.5 968 329" stroke="#888" stroke-width="0.6" stroke-dasharray="1.5 1.2"/>
<path d="M931 338C936 333.5 952 333.5 957 338" stroke="#555" stroke-width="0.7"/>
<path d="M911.5 332.5L920 336.5" stroke="#000" stroke-width="2.4"/><circle cx="911.6" cy="332.6" r="1.6" fill="#000"/>
<path d="M968 333.5L974 330.5" stroke="#000" stroke-width="1.2"/><path d="M973 329L977 334" stroke="#000" stroke-width="2.6"/>
<ellipse cx="944.3" cy="342" rx="4.6" ry="3.4" fill="#fff" stroke="#000" stroke-width="0.9"/>
<path d="M761.8 652.0L761.8 370.0C761.9 368.2 761.8 366.1 762.3 364.5C762.8 362.9 763.4 361.6 764.5 360.6C765.6 359.6 767.4 359.1 769.0 358.6C770.6 358.1 772.4 357.9 774.0 357.4C775.6 356.9 777.1 356.0 778.5 355.6C779.9 355.2 781.3 354.7 782.5 355.3C783.7 355.9 784.6 356.9 785.5 359.0C786.4 361.1 787.1 364.5 788.0 368.0C788.9 371.5 789.8 374.7 791.0 380.0C792.2 385.3 793.8 390.8 795.5 400.0C797.2 409.2 799.3 423.3 801.0 435.0C802.7 446.7 804.5 459.2 805.8 470.0C807.0 480.8 807.5 491.7 808.5 500.0C809.5 508.3 810.6 513.3 812.0 520.0C813.4 526.7 815.2 533.3 817.0 540.0C818.8 546.7 821.0 553.8 823.0 560.0C825.0 566.2 827.2 572.3 829.0 577.0C830.8 581.7 832.5 585.1 834.0 588.0C835.5 590.9 836.8 593.0 838.0 594.5C839.2 596.0 839.8 596.7 841.0 596.8C842.2 596.9 843.5 596.3 845.0 595.0C846.5 593.7 848.2 591.7 850.0 589.0C851.8 586.3 853.7 583.2 856.0 579.0C858.3 574.8 861.3 569.3 864.0 564.0C866.7 558.7 869.3 552.8 872.0 547.0C874.7 541.2 877.2 535.2 880.0 529.0C882.8 522.8 885.4 519.8 888.7 510.0C892.0 500.2 896.8 483.3 900.0 470.0C903.2 456.7 906.0 440.0 908.0 430.0C910.0 420.0 910.9 415.8 912.0 410.0C913.1 404.2 913.7 401.7 914.5 395.0C915.3 388.3 915.9 379.5 917.0 370.0C918.1 360.5 920.3 343.3 921.0 338.0" stroke="#000" stroke-width="3.5" stroke-linejoin="round"/>
<path d="M761.8 652.0L761.8 370.0C761.9 368.2 761.8 366.1 762.3 364.5C762.8 362.9 763.4 361.6 764.5 360.6C765.6 359.6 767.4 359.1 769.0 358.6C770.6 358.1 772.4 357.9 774.0 357.4C775.6 356.9 777.1 356.0 778.5 355.6C779.9 355.2 781.3 354.7 782.5 355.3C783.7 355.9 784.6 356.9 785.5 359.0C786.4 361.1 787.1 364.5 788.0 368.0C788.9 371.5 789.8 374.7 791.0 380.0C792.2 385.3 793.8 390.8 795.5 400.0C797.2 409.2 799.3 423.3 801.0 435.0C802.7 446.7 804.5 459.2 805.8 470.0C807.0 480.8 807.5 491.7 808.5 500.0C809.5 508.3 810.6 513.3 812.0 520.0C813.4 526.7 815.2 533.3 817.0 540.0C818.8 546.7 821.0 553.8 823.0 560.0C825.0 566.2 827.2 572.3 829.0 577.0C830.8 581.7 832.5 585.1 834.0 588.0C835.5 590.9 836.8 593.0 838.0 594.5C839.2 596.0 839.8 596.7 841.0 596.8C842.2 596.9 843.5 596.3 845.0 595.0C846.5 593.7 848.2 591.7 850.0 589.0C851.8 586.3 853.7 583.2 856.0 579.0C858.3 574.8 861.3 569.3 864.0 564.0C866.7 558.7 869.3 552.8 872.0 547.0C874.7 541.2 877.2 535.2 880.0 529.0C882.8 522.8 885.4 519.8 888.7 510.0C892.0 500.2 896.8 483.3 900.0 470.0C903.2 456.7 906.0 440.0 908.0 430.0C910.0 420.0 910.9 415.8 912.0 410.0C913.1 404.2 913.7 401.7 914.5 395.0C915.3 388.3 915.9 379.5 917.0 370.0C918.1 360.5 920.3 343.3 921.0 338.0" stroke="#fff" stroke-width="1.7" stroke-linejoin="round"/>
<path d="M766.9 577.0L766.9 296.0C767.1 294.1 767.1 291.9 768.0 290.5C768.9 289.1 770.2 288.2 772.0 287.7C773.8 287.1 776.8 287.1 779.0 287.2C781.2 287.3 783.8 287.2 785.5 288.3C787.2 289.4 788.2 291.2 789.5 294.0C790.8 296.8 791.8 301.3 793.0 305.0C794.2 308.7 795.3 311.4 796.5 316.0C797.7 320.6 798.9 326.8 800.0 332.5C801.1 338.2 801.6 338.8 803.3 350.0C805.0 361.2 808.4 386.1 810.0 400.0C811.6 413.9 811.4 422.2 812.8 433.3C814.2 444.4 816.7 455.6 818.3 466.7C819.9 477.8 821.0 491.1 822.5 500.0C824.0 508.9 825.2 513.7 827.0 520.0C828.8 526.3 831.0 533.3 833.0 538.0C835.0 542.7 837.2 545.4 839.0 548.0C840.8 550.6 842.6 552.3 844.0 553.5C845.4 554.7 846.2 555.2 847.5 555.3C848.8 555.4 850.2 555.0 852.0 554.0C853.8 553.0 855.8 551.3 858.0 549.0C860.2 546.7 862.5 543.8 865.0 540.0C867.5 536.2 870.4 531.0 873.0 526.0C875.6 521.0 877.0 519.3 880.5 510.0C884.0 500.7 890.5 480.7 894.3 470.0C898.0 459.3 900.7 452.7 903.0 446.0C905.3 439.3 906.5 436.0 908.0 430.0C909.5 424.0 911.0 415.8 912.0 410.0C913.0 404.2 912.8 400.8 914.0 395.0C915.2 389.2 917.6 385.0 919.5 375.0C921.4 365.0 924.5 341.7 925.5 335.0" stroke="#000" stroke-width="3.5" stroke-linejoin="round"/>
<path d="M766.9 577.0L766.9 296.0C767.1 294.1 767.1 291.9 768.0 290.5C768.9 289.1 770.2 288.2 772.0 287.7C773.8 287.1 776.8 287.1 779.0 287.2C781.2 287.3 783.8 287.2 785.5 288.3C787.2 289.4 788.2 291.2 789.5 294.0C790.8 296.8 791.8 301.3 793.0 305.0C794.2 308.7 795.3 311.4 796.5 316.0C797.7 320.6 798.9 326.8 800.0 332.5C801.1 338.2 801.6 338.8 803.3 350.0C805.0 361.2 808.4 386.1 810.0 400.0C811.6 413.9 811.4 422.2 812.8 433.3C814.2 444.4 816.7 455.6 818.3 466.7C819.9 477.8 821.0 491.1 822.5 500.0C824.0 508.9 825.2 513.7 827.0 520.0C828.8 526.3 831.0 533.3 833.0 538.0C835.0 542.7 837.2 545.4 839.0 548.0C840.8 550.6 842.6 552.3 844.0 553.5C845.4 554.7 846.2 555.2 847.5 555.3C848.8 555.4 850.2 555.0 852.0 554.0C853.8 553.0 855.8 551.3 858.0 549.0C860.2 546.7 862.5 543.8 865.0 540.0C867.5 536.2 870.4 531.0 873.0 526.0C875.6 521.0 877.0 519.3 880.5 510.0C884.0 500.7 890.5 480.7 894.3 470.0C898.0 459.3 900.7 452.7 903.0 446.0C905.3 439.3 906.5 436.0 908.0 430.0C909.5 424.0 911.0 415.8 912.0 410.0C913.0 404.2 912.8 400.8 914.0 395.0C915.2 389.2 917.6 385.0 919.5 375.0C921.4 365.0 924.5 341.7 925.5 335.0" stroke="#fff" stroke-width="1.7" stroke-linejoin="round"/>
<path d="M894.5 700.0L894.5 407.0C894.6 405.5 894.6 403.6 895.0 402.5C895.4 401.4 896.3 400.4 897.0 400.4C897.7 400.4 898.6 400.9 899.3 402.5C900.0 404.1 900.5 405.4 901.0 410.0C901.5 414.6 902.1 424.0 902.5 430.0C902.9 436.0 903.1 437.7 903.5 446.0C903.9 454.3 904.6 467.7 905.0 480.0C905.4 492.3 905.4 506.1 905.8 520.0C906.2 533.9 906.6 551.3 907.2 563.5C907.8 575.7 908.6 584.4 909.5 593.3C910.4 602.1 911.6 611.3 912.4 616.6C913.2 621.9 913.5 625.2 914.2 625.2C914.9 625.2 915.5 623.9 916.5 616.6C917.5 609.3 918.9 592.3 920.0 581.6C921.1 570.9 922.0 560.8 922.9 552.5C923.8 544.2 924.8 539.1 925.5 532.0C926.2 524.9 926.1 523.7 927.0 510.0C927.9 496.3 929.8 470.0 931.0 450.0C932.2 430.0 933.4 403.3 934.0 390.0C934.6 376.7 934.4 376.9 934.5 370.0C934.6 363.1 934.8 352.1 934.9 348.5" stroke="#000" stroke-width="3.5" stroke-linejoin="round"/>
<path d="M894.5 700.0L894.5 407.0C894.6 405.5 894.6 403.6 895.0 402.5C895.4 401.4 896.3 400.4 897.0 400.4C897.7 400.4 898.6 400.9 899.3 402.5C900.0 404.1 900.5 405.4 901.0 410.0C901.5 414.6 902.1 424.0 902.5 430.0C902.9 436.0 903.1 437.7 903.5 446.0C903.9 454.3 904.6 467.7 905.0 480.0C905.4 492.3 905.4 506.1 905.8 520.0C906.2 533.9 906.6 551.3 907.2 563.5C907.8 575.7 908.6 584.4 909.5 593.3C910.4 602.1 911.6 611.3 912.4 616.6C913.2 621.9 913.5 625.2 914.2 625.2C914.9 625.2 915.5 623.9 916.5 616.6C917.5 609.3 918.9 592.3 920.0 581.6C921.1 570.9 922.0 560.8 922.9 552.5C923.8 544.2 924.8 539.1 925.5 532.0C926.2 524.9 926.1 523.7 927.0 510.0C927.9 496.3 929.8 470.0 931.0 450.0C932.2 430.0 933.4 403.3 934.0 390.0C934.6 376.7 934.4 376.9 934.5 370.0C934.6 363.1 934.8 352.1 934.9 348.5" stroke="#fff" stroke-width="1.7" stroke-linejoin="round"/>
<path d="M905.2 532.0L905.2 247.0C905.3 245.8 905.2 244.4 905.6 243.5C906.0 242.6 906.7 241.9 907.3 241.6C907.9 241.2 908.7 241.1 909.3 241.4C909.9 241.7 910.5 242.1 910.8 243.2C911.1 244.3 911.2 243.5 911.3 248.0C911.4 252.5 911.3 260.8 911.6 270.0C911.9 279.2 912.8 289.4 913.3 303.3C913.8 317.2 914.4 337.2 914.8 353.3C915.2 369.4 915.2 387.2 915.5 400.0C915.8 412.8 916.1 418.3 916.5 430.0C916.9 441.7 917.3 456.7 918.0 470.0C918.7 483.3 919.7 500.7 920.5 510.0C921.3 519.3 922.2 522.4 923.0 526.0C923.8 529.6 924.3 531.5 925.0 531.5C925.7 531.5 926.4 529.6 927.2 526.0C928.0 522.4 928.7 519.3 930.0 510.0C931.3 500.7 933.5 483.3 935.0 470.0C936.5 456.7 937.9 443.3 939.0 430.0C940.1 416.7 940.9 400.0 941.5 390.0C942.1 380.0 942.0 380.0 942.4 370.0C942.8 360.0 943.6 336.7 943.9 330.0" stroke="#000" stroke-width="3.5" stroke-linejoin="round"/>
<path d="M905.2 532.0L905.2 247.0C905.3 245.8 905.2 244.4 905.6 243.5C906.0 242.6 906.7 241.9 907.3 241.6C907.9 241.2 908.7 241.1 909.3 241.4C909.9 241.7 910.5 242.1 910.8 243.2C911.1 244.3 911.2 243.5 911.3 248.0C911.4 252.5 911.3 260.8 911.6 270.0C911.9 279.2 912.8 289.4 913.3 303.3C913.8 317.2 914.4 337.2 914.8 353.3C915.2 369.4 915.2 387.2 915.5 400.0C915.8 412.8 916.1 418.3 916.5 430.0C916.9 441.7 917.3 456.7 918.0 470.0C918.7 483.3 919.7 500.7 920.5 510.0C921.3 519.3 922.2 522.4 923.0 526.0C923.8 529.6 924.3 531.5 925.0 531.5C925.7 531.5 926.4 529.6 927.2 526.0C928.0 522.4 928.7 519.3 930.0 510.0C931.3 500.7 933.5 483.3 935.0 470.0C936.5 456.7 937.9 443.3 939.0 430.0C940.1 416.7 940.9 400.0 941.5 390.0C942.1 380.0 942.0 380.0 942.4 370.0C942.8 360.0 943.6 336.7 943.9 330.0" stroke="#fff" stroke-width="1.7" stroke-linejoin="round"/>
<path d="M1144.6 619.0L1144.6 340.0C1144.4 337.7 1144.5 335.0 1143.5 333.0C1142.5 331.0 1140.5 329.0 1138.3 328.0C1136.0 327.0 1132.7 327.0 1130.0 326.8C1127.3 326.6 1124.0 326.1 1122.0 326.8C1120.0 327.5 1119.5 328.0 1118.0 331.0C1116.5 334.0 1115.2 338.5 1113.3 345.0C1111.4 351.5 1108.8 360.5 1106.7 370.0C1104.6 379.5 1102.4 388.7 1100.5 402.0C1098.6 415.3 1097.6 433.7 1095.3 450.0C1093.0 466.3 1089.8 483.9 1086.7 500.0C1083.6 516.1 1079.5 534.7 1076.7 546.7C1073.9 558.7 1072.3 567.0 1070.0 572.0C1067.7 577.0 1065.3 575.7 1063.0 577.0C1060.7 578.3 1058.5 580.3 1056.0 580.0C1053.5 579.7 1051.0 577.8 1048.0 575.0C1045.0 572.2 1041.5 568.0 1038.0 563.0C1034.5 558.0 1030.3 551.3 1027.0 545.0C1023.7 538.7 1021.3 532.5 1018.0 525.0C1014.7 517.5 1009.5 505.8 1007.0 500.0C1004.5 494.2 1004.6 494.7 1002.8 490.0C1000.9 485.3 998.7 480.9 995.9 471.7C993.1 462.5 988.8 446.9 985.8 435.0C982.8 423.1 979.8 409.2 978.0 400.0C976.2 390.8 976.7 390.1 974.8 380.0C972.9 369.9 968.1 346.2 966.8 339.5" stroke="#000" stroke-width="3.5" stroke-linejoin="round"/>
<path d="M1144.6 619.0L1144.6 340.0C1144.4 337.7 1144.5 335.0 1143.5 333.0C1142.5 331.0 1140.5 329.0 1138.3 328.0C1136.0 327.0 1132.7 327.0 1130.0 326.8C1127.3 326.6 1124.0 326.1 1122.0 326.8C1120.0 327.5 1119.5 328.0 1118.0 331.0C1116.5 334.0 1115.2 338.5 1113.3 345.0C1111.4 351.5 1108.8 360.5 1106.7 370.0C1104.6 379.5 1102.4 388.7 1100.5 402.0C1098.6 415.3 1097.6 433.7 1095.3 450.0C1093.0 466.3 1089.8 483.9 1086.7 500.0C1083.6 516.1 1079.5 534.7 1076.7 546.7C1073.9 558.7 1072.3 567.0 1070.0 572.0C1067.7 577.0 1065.3 575.7 1063.0 577.0C1060.7 578.3 1058.5 580.3 1056.0 580.0C1053.5 579.7 1051.0 577.8 1048.0 575.0C1045.0 572.2 1041.5 568.0 1038.0 563.0C1034.5 558.0 1030.3 551.3 1027.0 545.0C1023.7 538.7 1021.3 532.5 1018.0 525.0C1014.7 517.5 1009.5 505.8 1007.0 500.0C1004.5 494.2 1004.6 494.7 1002.8 490.0C1000.9 485.3 998.7 480.9 995.9 471.7C993.1 462.5 988.8 446.9 985.8 435.0C982.8 423.1 979.8 409.2 978.0 400.0C976.2 390.8 976.7 390.1 974.8 380.0C972.9 369.9 968.1 346.2 966.8 339.5" stroke="#fff" stroke-width="1.7" stroke-linejoin="round"/>
<path d="M1073.8 551.0L1073.8 274.0C1073.7 271.7 1073.7 268.9 1073.0 267.0C1072.3 265.1 1070.8 263.2 1069.5 262.3C1068.2 261.4 1066.4 261.5 1065.0 261.8C1063.6 262.1 1062.1 262.9 1061.0 264.0C1059.9 265.1 1059.6 264.5 1058.3 268.3C1057.0 272.1 1055.0 278.1 1053.3 286.7C1051.6 295.3 1049.8 307.5 1048.3 320.0C1046.8 332.5 1045.4 348.4 1044.2 361.7C1043.0 375.0 1042.2 388.1 1041.3 400.0C1040.4 411.9 1039.3 419.7 1038.7 433.0C1038.1 446.3 1038.2 465.5 1037.5 480.0C1036.8 494.5 1035.8 507.5 1034.5 520.0C1033.2 532.5 1031.8 543.3 1030.0 555.0C1028.2 566.7 1025.5 582.5 1024.0 590.0C1022.5 597.5 1022.2 596.5 1021.0 600.0C1019.8 603.5 1018.5 608.2 1017.0 611.0C1015.5 613.8 1013.9 616.6 1012.3 616.6C1010.7 616.6 1009.5 613.8 1007.5 611.0C1005.5 608.2 1002.2 605.2 1000.0 600.0C997.8 594.8 996.3 588.3 994.0 580.0C991.7 571.7 988.3 560.8 986.0 550.0C983.7 539.2 982.1 525.0 980.0 515.0C977.9 505.0 975.1 497.2 973.5 490.0C971.9 482.8 971.7 480.9 970.2 471.7C968.8 462.5 966.5 446.9 964.8 435.0C963.0 423.1 960.7 409.2 959.7 400.0C958.7 390.8 959.8 388.4 958.8 380.0C957.8 371.6 954.8 354.4 954.0 349.3" stroke="#000" stroke-width="3.5" stroke-linejoin="round"/>
<path d="M1073.8 551.0L1073.8 274.0C1073.7 271.7 1073.7 268.9 1073.0 267.0C1072.3 265.1 1070.8 263.2 1069.5 262.3C1068.2 261.4 1066.4 261.5 1065.0 261.8C1063.6 262.1 1062.1 262.9 1061.0 264.0C1059.9 265.1 1059.6 264.5 1058.3 268.3C1057.0 272.1 1055.0 278.1 1053.3 286.7C1051.6 295.3 1049.8 307.5 1048.3 320.0C1046.8 332.5 1045.4 348.4 1044.2 361.7C1043.0 375.0 1042.2 388.1 1041.3 400.0C1040.4 411.9 1039.3 419.7 1038.7 433.0C1038.1 446.3 1038.2 465.5 1037.5 480.0C1036.8 494.5 1035.8 507.5 1034.5 520.0C1033.2 532.5 1031.8 543.3 1030.0 555.0C1028.2 566.7 1025.5 582.5 1024.0 590.0C1022.5 597.5 1022.2 596.5 1021.0 600.0C1019.8 603.5 1018.5 608.2 1017.0 611.0C1015.5 613.8 1013.9 616.6 1012.3 616.6C1010.7 616.6 1009.5 613.8 1007.5 611.0C1005.5 608.2 1002.2 605.2 1000.0 600.0C997.8 594.8 996.3 588.3 994.0 580.0C991.7 571.7 988.3 560.8 986.0 550.0C983.7 539.2 982.1 525.0 980.0 515.0C977.9 505.0 975.1 497.2 973.5 490.0C971.9 482.8 971.7 480.9 970.2 471.7C968.8 462.5 966.5 446.9 964.8 435.0C963.0 423.1 960.7 409.2 959.7 400.0C958.7 390.8 959.8 388.4 958.8 380.0C957.8 371.6 954.8 354.4 954.0 349.3" stroke="#fff" stroke-width="1.7" stroke-linejoin="round"/>
<path d="M1065.1 685.0L1065.1 404.0C1064.9 401.7 1065.0 398.9 1064.2 397.0C1063.4 395.1 1061.8 393.7 1060.5 392.6C1059.2 391.5 1057.8 391.3 1056.3 390.2C1054.8 389.1 1052.8 386.5 1051.5 386.0C1050.2 385.5 1049.2 386.2 1048.5 387.0C1047.8 387.8 1047.5 388.8 1047.0 391.0C1046.5 393.2 1046.1 395.7 1045.5 400.0C1044.9 404.3 1044.4 409.2 1043.5 416.7C1042.6 424.2 1041.5 434.4 1040.0 445.0C1038.5 455.6 1036.0 470.8 1034.5 480.0C1033.0 489.2 1032.4 493.3 1031.0 500.0C1029.6 506.7 1027.7 514.0 1026.0 520.0C1024.3 526.0 1022.8 532.4 1021.0 536.0C1019.2 539.6 1017.5 541.5 1015.5 541.8C1013.5 542.1 1011.1 540.3 1009.0 538.0C1006.9 535.7 1005.3 533.5 1003.0 528.0C1000.7 522.5 997.1 511.3 995.0 505.0C992.9 498.7 992.1 495.6 990.4 490.0C988.7 484.4 987.2 480.9 984.9 471.7C982.6 462.5 979.1 446.9 976.7 435.0C974.3 423.1 971.7 409.2 970.2 400.0C968.8 390.8 969.3 390.9 968.0 380.0C966.7 369.1 963.2 341.9 962.3 334.3" stroke="#000" stroke-width="3.5" stroke-linejoin="round"/>
<path d="M1065.1 685.0L1065.1 404.0C1064.9 401.7 1065.0 398.9 1064.2 397.0C1063.4 395.1 1061.8 393.7 1060.5 392.6C1059.2 391.5 1057.8 391.3 1056.3 390.2C1054.8 389.1 1052.8 386.5 1051.5 386.0C1050.2 385.5 1049.2 386.2 1048.5 387.0C1047.8 387.8 1047.5 388.8 1047.0 391.0C1046.5 393.2 1046.1 395.7 1045.5 400.0C1044.9 404.3 1044.4 409.2 1043.5 416.7C1042.6 424.2 1041.5 434.4 1040.0 445.0C1038.5 455.6 1036.0 470.8 1034.5 480.0C1033.0 489.2 1032.4 493.3 1031.0 500.0C1029.6 506.7 1027.7 514.0 1026.0 520.0C1024.3 526.0 1022.8 532.4 1021.0 536.0C1019.2 539.6 1017.5 541.5 1015.5 541.8C1013.5 542.1 1011.1 540.3 1009.0 538.0C1006.9 535.7 1005.3 533.5 1003.0 528.0C1000.7 522.5 997.1 511.3 995.0 505.0C992.9 498.7 992.1 495.6 990.4 490.0C988.7 484.4 987.2 480.9 984.9 471.7C982.6 462.5 979.1 446.9 976.7 435.0C974.3 423.1 971.7 409.2 970.2 400.0C968.8 390.8 969.3 390.9 968.0 380.0C966.7 369.1 963.2 341.9 962.3 334.3" stroke="#fff" stroke-width="1.7" stroke-linejoin="round"/>
<path d="M756.4 604.4V580.4Q756.4 575.4 761.4 575.4H771.4Q776.4 575.4 776.4 580.4V604.4A10.0 4.1 0 0 1 756.4 604.4Z" fill="#fff" stroke="#000" stroke-width="1.2"/>
<ellipse cx="766.4" cy="604.4" rx="9.6" ry="3.9" fill="#fff" stroke="#000" stroke-width="1.5"/>
<path d="M757.6 580.4V603.4" stroke="#000" stroke-width="0.6"/>
<path d="M757.9 577.6Q766.4 576.0 774.9 577.6" stroke="#000" stroke-width="0.6"/>
<path d="M751.4 679.2V655.2Q751.4 650.2 756.4 650.2H766.4Q771.4 650.2 771.4 655.2V679.2A10.0 4.1 0 0 1 751.4 679.2Z" fill="#fff" stroke="#000" stroke-width="1.2"/>
<ellipse cx="761.4" cy="679.2" rx="9.6" ry="3.9" fill="#fff" stroke="#000" stroke-width="1.5"/>
<path d="M752.6 655.2V678.2" stroke="#000" stroke-width="0.6"/>
<path d="M752.9 652.4Q761.4 650.8 769.9 652.4" stroke="#000" stroke-width="0.6"/>
<path d="M895.2 560.7V536.7Q895.2 531.7 900.2 531.7H910.2Q915.2 531.7 915.2 536.7V560.7A10.0 4.1 0 0 1 895.2 560.7Z" fill="#fff" stroke="#000" stroke-width="1.2"/>
<ellipse cx="905.2" cy="560.7" rx="9.6" ry="3.9" fill="#fff" stroke="#000" stroke-width="1.5"/>
<path d="M896.4 536.7V559.7" stroke="#000" stroke-width="0.6"/>
<path d="M896.7 533.9Q905.2 532.3 913.7 533.9" stroke="#000" stroke-width="0.6"/>
<path d="M1063.7 579.0V555.0Q1063.7 550.0 1068.7 550.0H1078.7Q1083.7 550.0 1083.7 555.0V579.0A10.0 4.1 0 0 1 1063.7 579.0Z" fill="#fff" stroke="#000" stroke-width="1.2"/>
<ellipse cx="1073.7" cy="579.0" rx="9.6" ry="3.9" fill="#fff" stroke="#000" stroke-width="1.5"/>
<path d="M1064.9 555.0V578.0" stroke="#000" stroke-width="0.6"/>
<path d="M1065.2 552.2Q1073.7 550.6 1082.2 552.2" stroke="#000" stroke-width="0.6"/>
<path d="M884.2 728.2V704.2Q884.2 699.2 889.2 699.2H899.2Q904.2 699.2 904.2 704.2V728.2A10.0 4.1 0 0 1 884.2 728.2Z" fill="#fff" stroke="#000" stroke-width="1.2"/>
<ellipse cx="894.2" cy="728.2" rx="9.6" ry="3.9" fill="#fff" stroke="#000" stroke-width="1.5"/>
<path d="M885.4 704.2V727.2" stroke="#000" stroke-width="0.6"/>
<path d="M885.7 701.4Q894.2 699.8 902.7 701.4" stroke="#000" stroke-width="0.6"/>
<path d="M1055.0 713.7V689.7Q1055.0 684.7 1060.0 684.7H1070.0Q1075.0 684.7 1075.0 689.7V713.7A10.0 4.1 0 0 1 1055.0 713.7Z" fill="#fff" stroke="#000" stroke-width="1.2"/>
<ellipse cx="1065" cy="713.7" rx="9.6" ry="3.9" fill="#fff" stroke="#000" stroke-width="1.5"/>
<path d="M1056.2 689.7V712.7" stroke="#000" stroke-width="0.6"/>
<path d="M1056.5 686.9Q1065.0 685.3 1073.5 686.9" stroke="#000" stroke-width="0.6"/>
<path d="M1134.4 646.8V622.8Q1134.4 617.8 1139.4 617.8H1149.4Q1154.4 617.8 1154.4 622.8V646.8A10.0 4.1 0 0 1 1134.4 646.8Z" fill="#fff" stroke="#000" stroke-width="1.2"/>
<ellipse cx="1144.4" cy="646.8" rx="9.6" ry="3.9" fill="#fff" stroke="#000" stroke-width="1.5"/>
<path d="M1135.6 622.8V645.8" stroke="#000" stroke-width="0.6"/>
<path d="M1135.9 620.0Q1144.4 618.4 1152.9 620.0" stroke="#000" stroke-width="0.6"/>
<ellipse cx="779" cy="290.4" rx="3.7" ry="2.2" fill="#fff" stroke="#000" stroke-width="1"/>
<ellipse cx="779" cy="290.7" rx="2.2" ry="1" fill="none" stroke="#000" stroke-width="0.6"/>
<ellipse cx="779" cy="284.4" rx="3.9" ry="2.2" fill="#fff" stroke="#000" stroke-width="1"/>
<path d="M775.1 284.4A3.9 2.2 0 0 0 778.0 286.5L776.8 282.7Z" fill="#000" stroke="none"/>
<ellipse cx="774" cy="360.1" rx="3.7" ry="2.2" fill="#fff" stroke="#000" stroke-width="1"/>
<ellipse cx="774" cy="360.4" rx="2.2" ry="1" fill="none" stroke="#000" stroke-width="0.6"/>
<ellipse cx="774" cy="354.1" rx="3.9" ry="2.2" fill="#fff" stroke="#000" stroke-width="1"/>
<path d="M770.1 354.1A3.9 2.2 0 0 0 773.0 356.2L771.8 352.4Z" fill="#000" stroke="none"/>
<ellipse cx="1065" cy="265.9" rx="3.7" ry="2.2" fill="#fff" stroke="#000" stroke-width="1"/>
<ellipse cx="1065" cy="266.2" rx="2.2" ry="1" fill="none" stroke="#000" stroke-width="0.6"/>
<ellipse cx="1065" cy="259.9" rx="3.9" ry="2.2" fill="#fff" stroke="#000" stroke-width="1"/>
<path d="M1061.1 259.9A3.9 2.2 0 0 0 1064.0 262.0L1062.8 258.2Z" fill="#000" stroke="none"/>
<ellipse cx="1056.3" cy="391.3" rx="3.7" ry="2.2" fill="#fff" stroke="#000" stroke-width="1"/>
<ellipse cx="1056.3" cy="391.6" rx="2.2" ry="1" fill="none" stroke="#000" stroke-width="0.6"/>
<ellipse cx="1056.3" cy="385.3" rx="3.9" ry="2.2" fill="#fff" stroke="#000" stroke-width="1"/>
<path d="M1052.4 385.3A3.9 2.2 0 0 0 1055.3 387.4L1054.1 383.6Z" fill="#000" stroke="none"/>
<ellipse cx="1130" cy="330.3" rx="3.7" ry="2.2" fill="#fff" stroke="#000" stroke-width="1"/>
<ellipse cx="1130" cy="330.6" rx="2.2" ry="1" fill="none" stroke="#000" stroke-width="0.6"/>
<ellipse cx="1130" cy="324.3" rx="3.9" ry="2.2" fill="#fff" stroke="#000" stroke-width="1"/>
<path d="M1126.1 324.3A3.9 2.2 0 0 0 1129.0 326.4L1127.8 322.6Z" fill="#000" stroke="none"/>
<ellipse cx="896.7" cy="404.3" rx="3.7" ry="2.2" fill="#fff" stroke="#000" stroke-width="1"/>
<ellipse cx="896.7" cy="404.6" rx="2.2" ry="1" fill="none" stroke="#000" stroke-width="0.6"/>
<ellipse cx="896.7" cy="398.3" rx="3.9" ry="2.2" fill="#fff" stroke="#000" stroke-width="1"/>
<path d="M892.8 398.3A3.9 2.2 0 0 0 895.7 400.4L894.5 396.6Z" fill="#000" stroke="none"/>
<ellipse cx="908.8" cy="248.6" rx="2.3" ry="1.5" fill="#fff" stroke="#000" stroke-width="0.9"/><path d="M905.6 243.6Q908.5 241.5 911 245" stroke="#000" stroke-width="1" fill="none"/>
<g transform="translate(927.2 329) rotate(22)"><path d="M-3.7 3.6V-2.2Q-3.7 -4.2 0 -4.2Q3.7 -4.2 3.7 -2.2V3.6Z" fill="#fff" stroke="#000" stroke-width="1"/><ellipse cx="0" cy="3.6" rx="3.7" ry="1.6" fill="#000" stroke="#000" stroke-width="0.8"/></g>
<g transform="translate(944.2 326) rotate(2)"><path d="M-3.7 3.6V-2.2Q-3.7 -4.2 0 -4.2Q3.7 -4.2 3.7 -2.2V3.6Z" fill="#fff" stroke="#000" stroke-width="1"/><ellipse cx="0" cy="3.6" rx="3.7" ry="1.6" fill="#000" stroke="#000" stroke-width="0.8"/></g>
<g transform="translate(960.6 329.5) rotate(-18)"><path d="M-3.7 3.6V-2.2Q-3.7 -4.2 0 -4.2Q3.7 -4.2 3.7 -2.2V3.6Z" fill="#fff" stroke="#000" stroke-width="1"/><ellipse cx="0" cy="3.6" rx="3.7" ry="1.6" fill="#000" stroke="#000" stroke-width="0.8"/></g>
<ellipse cx="935.3" cy="346" rx="3.6" ry="2.2" fill="#000"/><path d="M932.5 343H938.3L938 345H932.5Z" fill="#fff" stroke="#000" stroke-width="0.7"/>
<ellipse cx="952.6" cy="346.6" rx="3" ry="2.4" fill="#000"/><path d="M954 343.5L958 344.5L957.5 347L954.5 347Z" fill="#fff" stroke="#000" stroke-width="0.7"/>
</g>
<path d="M1129 331L834.6 800M1129 331L1016.3 801.3" fill="none" stroke="#000" stroke-width="1"/>
<!-- s5 -->
<g fill="none" stroke="#333" stroke-width="0.8">
<rect x="786.3" y="799.8" width="97.4" height="178.5" fill="#fff" stroke="#dedede" stroke-width="1"/>
<path d="M786.3 809.6H883.7M786.3 834.2H883.7M786.3 859.1H883.7" stroke="#555" stroke-width="0.65"/>
<path d="M786.3 884.4H883.7" stroke="#333" stroke-width="0.9"/>
<path d="M835.4 809.6V875" stroke="#555" stroke-width="0.6"/>
<!-- washer -->
<ellipse cx="835.4" cy="828.6" rx="5.8" ry="3" fill="#fff" stroke="#222" stroke-width="1.3"/>
<ellipse cx="835.4" cy="828.8" rx="3.6" ry="1.5" fill="#ddd" stroke="#333" stroke-width="0.7"/>
<!-- hook cap -->
<path d="M829.9 861.5H840.9V866Q835.4 868.5 829.9 866Z" fill="#fff" stroke="#222" stroke-width="0.9"/>
<path d="M827.6 855H843.3V863Q835.4 866 827.6 863Z" fill="#ddd" stroke="#222" stroke-width="0.9"/>
<path d="M827.6 857.5Q835.4 860 843.3 857.5M827.6 859.7Q835.4 862.2 843.3 859.7M827.6 861.6Q835.4 864 843.3 861.6" stroke="#333" stroke-width="0.7"/>
<path d="M824.7 851Q824.7 847.2 829 847.2H842Q846 847.2 846 851V855.5Q846 859.5 835.4 859.5Q824.7 859.5 824.7 855.5Z" fill="#fff" stroke="#222" stroke-width="1"/>
<path d="M824.9 856Q835.4 852.5 845.8 856" stroke="#555" stroke-width="0.6"/>
<!-- screw -->
<path d="M835.4 874L833.2 878.5V904.2H833.7V921.5H837.1V904.2H837.7V878.5Z" fill="#fff" stroke="#333" stroke-width="0.8"/>
<path d="M833.2 880.5H837.7M833.2 883H837.7M833.2 885.5H837.7M833.2 888H837.7M833.2 890.5H837.7M833.2 893H837.7M833.2 895.5H837.7M833.2 898H837.7M833.2 900.5H837.7M833.2 903H837.7" stroke="#333" stroke-width="0.9"/>
<ellipse cx="835.4" cy="923.5" rx="4.3" ry="2" fill="#ccc" stroke="#333" stroke-width="0.9"/>
<ellipse cx="835.4" cy="923.7" rx="2" ry="0.9" stroke="#555" stroke-width="0.6"/>
<!-- cap -->
<path d="M824.5 947.7A10.6 4 0 0 1 845.7 947.7V956.8A10.6 4.6 0 0 1 824.5 956.8Z" fill="#fff" stroke="#666" stroke-width="0.8"/>
<path d="M824.5 956.8A10.6 4.2 0 0 1 845.7 956.8" stroke="#999" stroke-width="0.7"/>
<circle cx="807.5" cy="924.7" r="18.8" stroke="#000" stroke-width="1.1"/>
</g>
<text id="d5" x="808.2" y="937.3" font-size="35.5" text-anchor="middle">5</text>
<!-- s6 -->
<clipPath id="c6"><rect x="923.3" y="801.3" width="186.4" height="126.2"/></clipPath>
<rect x="923.3" y="801.3" width="186.4" height="126.2" fill="#fff" stroke="#dedede" stroke-width="1"/>
<g fill="none" stroke="#333" stroke-width="0.8" clip-path="url(#c6)">
<path d="M923.3 812.4H1109.7M923.3 831.5H1109.7M923.3 850.8H1109.7" stroke="#555" stroke-width="0.65"/>
<path d="M991.3 801.3V812.2M1087.2 812.2L1088 831.3M992 831.3V835M1088.5 850.8V870.8" stroke="#555" stroke-width="0.65"/>
<path d="M923.3 870.8H1109.7" stroke="#222" stroke-width="1.3"/>
<!-- tube: outer black, white inside -->
<path d="M956.8 932V874C957.2 866 960 861 965.5 856.5C972 851.5 979 850 986.5 848.5C993 847.3 998 846 1003.3 845.6C1009 845 1013 845 1016.7 846.3C1021.5 848.2 1024.5 851 1027 854.5C1030.5 859.5 1033 865 1035 870.5C1038 880 1041 890 1043.3 898.3C1046 908 1049 918 1052.5 932" stroke="#111" stroke-width="8"/>
<path d="M956.8 932V874C957.2 866 960 861 965.5 856.5C972 851.5 979 850 986.5 848.5C993 847.3 998 846 1003.3 845.6C1009 845 1013 845 1016.7 846.3C1021.5 848.2 1024.5 851 1027 854.5C1030.5 859.5 1033 865 1035 870.5C1038 880 1041 890 1043.3 898.3C1046 908 1049 918 1052.5 932" stroke="#fff" stroke-width="6.2"/>
<path d="M960.5 878V927.5" stroke="#fff" stroke-width="1.6" stroke-dasharray="0 13 4 40"/>
<!-- cap below -->
<path d="M982.6 858.3A10.7 2.6 0 0 1 1004 858.3V867.5A10.7 3.4 0 0 1 982.6 867.5Z" fill="#fff" stroke="#333" stroke-width="0.8"/>
<path d="M982.6 867.5A10.7 3.2 0 0 1 1004 867.5" stroke="#555" stroke-width="0.7"/>
<!-- knob -->
<ellipse cx="993.3" cy="851.6" rx="5.8" ry="1.8" fill="#fff" stroke="#222" stroke-width="0.8"/>
<rect x="987.5" y="842.5" width="11.7" height="8.5" fill="#bbb" stroke="#222" stroke-width="0.8"/>
<path d="M987.5 844.6H999.2M987.5 846.6H999.2M987.5 848.6H999.2M987.5 850.4H999.2" stroke="#222" stroke-width="0.8"/>
<rect x="982.5" y="834.2" width="21.3" height="9.2" rx="3" fill="#fff" stroke="#222" stroke-width="0.9"/>
<!-- rotation arrow -->
<path d="M982.5 877.5C974 879.5 970 883 970.5 886.5C971.5 892.5 983 895.8 994.5 895.5C1006 895.2 1016 890.5 1015.5 885.5C1015.3 883.5 1014.5 882 1013 880.8" stroke="#555" stroke-width="0.7"/>
<path d="M979.5 875.2L984.5 877.2L980.5 879.8Z" fill="#fff" stroke="#555" stroke-width="0.7"/>
</g>
<circle cx="1080.6" cy="896.8" r="18.8" fill="#fff" stroke="#000" stroke-width="1.1"/>
<text id="d6" x="1081.3" y="908.5" font-size="35.5" text-anchor="middle">6</text>
</svg>
</body></html>
